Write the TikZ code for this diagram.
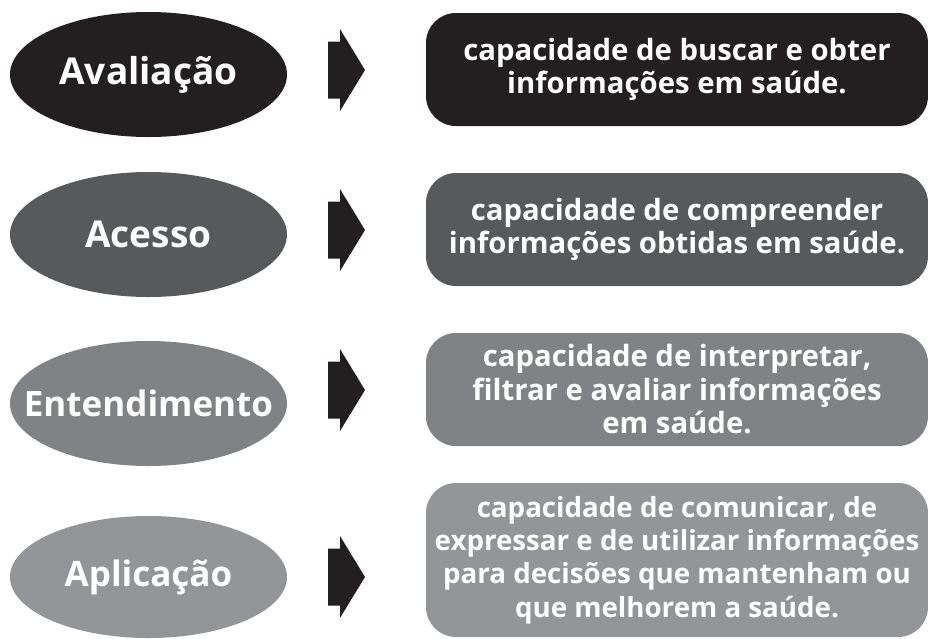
\documentclass[tikz,border=0pt]{standalone}
\usepackage{fontspec}
\setmainfont{Open Sans}
\usetikzlibrary{shapes.geometric}
\definecolor{cA}{HTML}{231F20}
\definecolor{cB}{HTML}{58595B}
\definecolor{cC}{HTML}{808285}
\definecolor{cD}{HTML}{939598}
\newcommand{\zw}[1]{\makebox[0pt]{#1}}
\begin{document}
\begin{tikzpicture}[x=1pt,y=-1pt,
  oval/.style={ellipse, minimum width=277pt, minimum height=125pt, inner sep=0pt, text=white, font=\fontsize{37}{40}\selectfont\bfseries},
  descbox/.style={rectangle, rounded corners=30pt, minimum width=502pt, minimum height=113pt, text=white, align=center, inner sep=0pt, font=\fontsize{29.3}{33.5}\selectfont\bfseries},
  blockarrow/.style={fill=cA}]
\useasboundingbox (0,0) rectangle (928,638);
% ellipses
\node[oval, fill=cA] (e1) at (148.5,74.5) {\zw{Avaliação}};
\node[oval, fill=cB] (e2) at (148.5,234.5) {\zw{Acesso}};
\node[oval, fill=cC, font=\fontsize{35}{40}\selectfont\bfseries] (e3) at (148.5,403.5) {\zw{Entendimento}};
\node[oval, fill=cD, minimum height=122pt, font=\fontsize{35}{40}\selectfont\bfseries] (e4) at (148.5,577) {\zw{Aplicação}};
% boxes
\node[descbox, fill=cA] (b1) at (677,69.5) {capacidade de buscar e obter\\informações em saúde.};
\node[descbox, fill=cB] (b2) at (677,229.5) {capacidade de compreender\\informações obtidas em saúde.};
\node[descbox, fill=cC] (b3) at (677,389.5) {capacidade de interpretar,\\filtrar e avaliar informações\\em saúde.};
\node[descbox, fill=cD, minimum height=154pt, font=\fontsize{27.7}{33.3}\selectfont\bfseries] (b4) at (677,560) {capacidade de comunicar, de\\expressar e de utilizar informações\\para decisões que mantenham ou\\que melhorem a saúde.};
% block arrows
\foreach \c/\n in {70/a1,230/a2,390/a3,577/a4}{
  \coordinate (\n) at (340,\c);
  \fill[blockarrow] ([shift={(-12,-28.5)}]\n) -- ([shift={(0,-28.5)}]\n) -- ([shift={(0,-41)}]\n)
     -- ([shift={(25,0)}]\n) -- ([shift={(0,41)}]\n) -- ([shift={(0,28.5)}]\n) -- ([shift={(-12,28.5)}]\n) -- cycle;
}
\end{tikzpicture}
\end{document}
